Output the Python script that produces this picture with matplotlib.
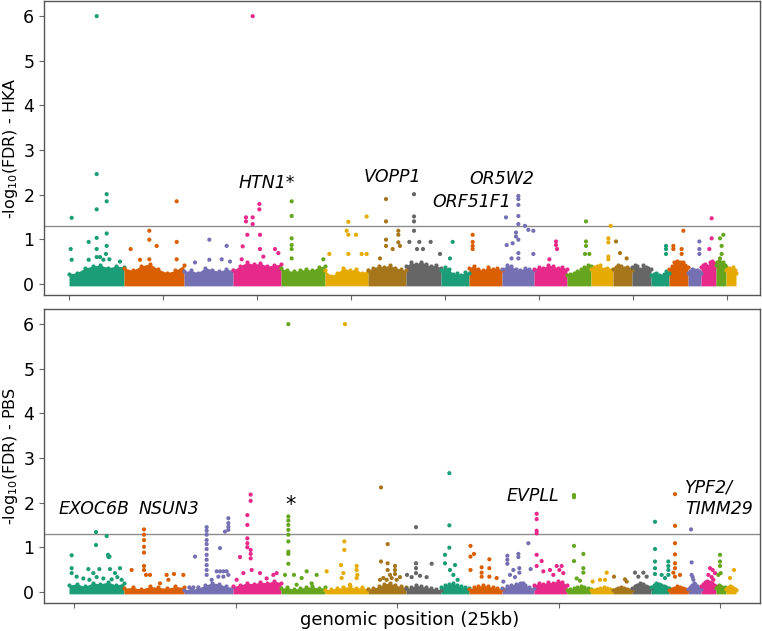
import numpy as np
import matplotlib.pyplot as plt

# chromosome lengths in 25kb bins (read from the block widths)
chrom_len = [11000, 12000, 9800, 9600, 8800, 8600, 7600, 7000, 5600, 6600, 6400,
             6600, 4800, 4400, 3800, 3800, 3600, 3800, 2600, 3000, 2000, 2000]
palette = ['#1b9e77', '#d95f02', '#7570b3', '#e7298a',
           '#66a61e', '#e6ab02', '#a6761d', '#666666']

# upper edge of the dense background cloud, per chromosome
env_hka = [
    [0.22, 0.25, 0.35, 0.40, 0.42, 0.36, 0.40, 0.38],
    [0.36, 0.30, 0.40, 0.45, 0.33, 0.25, 0.30, 0.42],
    [0.28, 0.30, 0.25, 0.36, 0.32, 0.28, 0.33, 0.30],
    [0.30, 0.40, 0.48, 0.44, 0.46, 0.40, 0.42, 0.44],
    [0.35, 0.30, 0.28, 0.30, 0.33, 0.30, 0.38, 0.40],
    [0.30, 0.18, 0.25, 0.36, 0.30, 0.33, 0.25, 0.30],
    [0.30, 0.36, 0.40, 0.38, 0.42, 0.36, 0.33, 0.30],
    [0.40, 0.48, 0.44, 0.50, 0.44, 0.40, 0.42, 0.35],
    [0.30, 0.38, 0.33, 0.22, 0.25, 0.20, 0.26, 0.25],
    [0.36, 0.40, 0.33, 0.30, 0.38, 0.33, 0.36, 0.30],
    [0.33, 0.42, 0.40, 0.33, 0.30, 0.36, 0.33, 0.30],
    [0.33, 0.38, 0.36, 0.42, 0.40, 0.36, 0.38, 0.33],
    [0.20, 0.22, 0.25, 0.28, 0.33, 0.38, 0.42, 0.40],
    [0.33, 0.38, 0.40, 0.42, 0.33, 0.36, 0.30, 0.33],
    [0.33, 0.38, 0.42, 0.40, 0.36, 0.38, 0.33, 0.30],
    [0.38, 0.42, 0.40, 0.33, 0.42, 0.38, 0.36, 0.33],
    [0.20, 0.22, 0.25, 0.20, 0.18, 0.22, 0.28, 0.25],
    [0.33, 0.40, 0.48, 0.52, 0.50, 0.48, 0.42, 0.38],
    [0.25, 0.28, 0.33, 0.30, 0.28, 0.30, 0.28, 0.25],
    [0.38, 0.42, 0.45, 0.40, 0.48, 0.52, 0.46, 0.42],
    [0.42, 0.48, 0.52, 0.50, 0.46, 0.48, 0.42, 0.38],
    [0.30, 0.33, 0.36, 0.30, 0.33, 0.38, 0.30, 0.25],
]
env_pbs = [
    [0.15, 0.18, 0.12, 0.20, 0.18, 0.22, 0.15, 0.20],
    [0.08, 0.10, 0.06, 0.12, 0.10, 0.08, 0.12, 0.10],
    [0.05, 0.06, 0.08, 0.15, 0.20, 0.18, 0.12, 0.10],
    [0.12, 0.15, 0.20, 0.18, 0.22, 0.20, 0.25, 0.20],
    [0.08, 0.10, 0.06, 0.08, 0.10, 0.12, 0.08, 0.10],
    [0.05, 0.06, 0.08, 0.10, 0.12, 0.08, 0.10, 0.06],
    [0.06, 0.08, 0.12, 0.18, 0.20, 0.15, 0.12, 0.10],
    [0.08, 0.10, 0.15, 0.12, 0.10, 0.08, 0.06, 0.05],
    [0.10, 0.15, 0.18, 0.20, 0.15, 0.12, 0.10, 0.08],
    [0.06, 0.10, 0.12, 0.15, 0.12, 0.10, 0.08, 0.06],
    [0.08, 0.12, 0.15, 0.18, 0.20, 0.15, 0.10, 0.08],
    [0.15, 0.20, 0.18, 0.22, 0.20, 0.25, 0.22, 0.15],
    [0.05, 0.06, 0.08, 0.10, 0.12, 0.10, 0.08, 0.06],
    [0.04, 0.05, 0.06, 0.08, 0.10, 0.08, 0.06, 0.05],
    [0.04, 0.06, 0.08, 0.10, 0.08, 0.06, 0.05, 0.04],
    [0.08, 0.12, 0.15, 0.20, 0.18, 0.12, 0.10, 0.08],
    [0.10, 0.15, 0.20, 0.18, 0.15, 0.12, 0.10, 0.08],
    [0.05, 0.06, 0.08, 0.12, 0.10, 0.08, 0.06, 0.05],
    [0.06, 0.10, 0.15, 0.20, 0.18, 0.12, 0.08, 0.06],
    [0.12, 0.18, 0.22, 0.25, 0.22, 0.20, 0.15, 0.12],
    [0.08, 0.10, 0.15, 0.12, 0.10, 0.08, 0.10, 0.06],
    [0.06, 0.08, 0.10, 0.12, 0.10, 0.08, 0.06, 0.05],
]

# windows standing out of the background (position in bins, -log10 FDR)
hka_x = [5533, 5533, 7533, 7533, 5533, 533, 7533, 5533, 3933, 333, 5533, 7533, 7400, 533,
         3933, 5533, 6200, 6870, 8070, 10200,
         16067, 16067, 12333, 17533, 21533, 21533, 16067, 21533, 14200,
         28067, 31533, 25200, 28067, 30533, 32200,
         36733, 38067, 38067, 35400, 35400, 36733, 36733, 35667, 38200, 34733, 38200, 41200,
         41870, 34533, 38870,
         44533, 44533, 44533, 44533, 44533, 44533, 50867,
         55867, 59533, 55533, 55867, 57400, 55867, 58533, 59533, 52067,
         63400, 63400, 65867, 65867, 63400, 63400, 64733, 65867, 66200, 62200,
         69000, 69000, 69000, 69000, 68070, 70070, 72330, 69600, 70800, 74200,
         76733, 76200,
         80733, 80733, 80733, 80733,
         89870, 89870, 89870, 89870, 87400, 89870, 91200, 91870, 92870, 89400, 89400, 87533,
         88730, 89870, 92870, 89870, 89870, 88500,
         97400, 97400, 97600, 96070,
         103400, 103400, 103400, 104070, 103200,
         108330, 107870, 107870, 107870, 107870,
         109400, 110200, 111530,
         119400, 119400, 119400,
         122870, 120870, 120870, 122530, 122530,
         126070, 126070, 126070,
         128530, 128530, 128070,
         130870, 130200, 130530, 130530, 130200]
hka_y = [6.0, 2.46, 2.01, 1.85, 1.67, 1.48, 1.13, 1.03, 0.94, 0.78, 0.78, 0.85, 0.67, 0.54,
         0.54, 0.60, 0.60, 0.54, 0.55, 0.50,
         1.19, 0.99, 0.78, 0.85, 1.85, 0.94, 0.55, 0.55, 0.54,
         0.99, 0.85, 0.48, 0.54, 0.55, 0.50,
         6.0, 1.79, 1.67, 1.49, 1.40, 1.49, 1.34, 1.10, 1.10, 0.84, 0.78, 0.78,
         0.69, 0.55, 0.61,
         1.85, 1.52, 1.02, 0.87, 0.78, 0.57, 0.55,
         1.39, 1.51, 1.19, 1.10, 1.10, 0.67, 0.67, 0.67, 0.67,
         1.90, 1.40, 1.19, 1.10, 0.99, 0.85, 0.78, 0.93, 0.85, 0.57,
         2.01, 1.51, 1.40, 1.19, 0.94, 0.94, 0.94, 0.78, 0.78, 0.67,
         0.94, 0.57,
         1.10, 0.94, 0.85, 0.78,
         1.97, 1.90, 1.77, 1.52, 1.49, 1.34, 1.30, 1.21, 1.19, 1.15, 1.06, 0.87,
         0.91, 0.99, 0.67, 0.69, 0.57, 0.57,
         0.95, 0.87, 0.78, 0.55,
         1.40, 0.95, 0.85, 0.67, 0.67,
         1.30, 1.02, 0.93, 0.61, 0.55,
         0.95, 0.69, 0.57,
         0.85, 0.78, 0.67,
         1.19, 0.85, 0.78, 0.78, 0.67,
         0.95, 0.78, 0.67,
         1.47, 1.02, 0.78,
         1.10, 1.02, 0.85, 0.67, 0.57]

pbs_x = [5400, 7533, 5400, 7800, 8100, 7900, 533, 533, 533, 3870, 6070, 8200, 10200, 9200,
         4870, 1530, 2870, 4070, 5530, 6870, 8530, 9670, 10530,
         15000, 15000, 15000, 15000, 15000, 15000, 15000, 12530, 15400, 16200, 19530, 21000,
         22870, 19870, 18200,
         27530, 27530, 27530, 27530, 27530, 27530, 27530, 27530, 27530, 27530, 27530,
         31870, 31870, 31870, 31870, 31200, 30200, 25200, 29530, 30200, 30870, 31530, 29870,
         30870, 31870, 28530, 24070, 24870, 25870,
         36330, 36330, 35670, 35670, 35670, 35670, 35670, 36330, 36330, 36330, 34200, 34870,
         36530, 38200, 40870, 41530, 39530, 33530,
         43870, 43870, 43870, 43870, 43870, 43870, 43870, 43870, 43870, 43870, 43200, 45000,
         46530, 47530, 49530, 48530, 45530,
         55200, 55070, 55070, 54400, 57530, 57530, 57670, 51530, 54870, 54530, 57530, 56200,
         62400, 63730, 62400, 63730, 65200, 65200, 65200, 63730, 64200, 62200, 62870, 63530,
         64530, 65530, 66200,
         69400, 69400, 69400, 72530, 67600, 68530, 70200, 71530, 69400,
         76070, 76070, 76070, 75200, 77200, 75200, 76200, 76870, 77730,
         80300, 80300, 81000, 80300, 84070, 82530, 82530, 82530, 84070, 84070, 85530,
         87670, 87670, 87670, 89870, 89870, 91870, 88870, 90070, 90070, 92330, 88200, 89200,
         86870, 90870,
         93530, 93530, 93530, 93530, 93530, 94530, 93530, 97530, 98530, 98070, 94870, 96200,
         96870, 98870,
         101000, 101000, 101000, 102870, 101000, 102870, 102870, 101530, 102200,
         107530, 106200, 107200, 104730,
         109000, 111200, 111530,
         113200, 114870, 113870, 115530,
         117200, 117200, 117200, 117200, 117200, 119870, 119870, 119870, 119870, 118530, 119200,
         121200, 121200, 121200, 121200, 121200, 121200, 120870, 121200, 122200,
         124400, 124530, 124530, 124730, 124870,
         128200, 128730, 127870, 129200, 128530, 128870,
         130200, 130200, 130200, 129870, 130330,
         133000, 132200]
pbs_y = [1.34, 1.25, 1.05, 0.83, 0.79, 0.78, 0.82, 0.53, 0.42, 0.51, 0.51, 0.51, 0.53, 0.42,
         0.42, 0.34, 0.30, 0.27, 0.33, 0.30, 0.28, 0.33, 0.27,
         1.40, 1.28, 1.16, 1.01, 0.88, 0.58, 0.49, 0.49, 0.38, 0.38, 0.38, 0.40,
         0.38, 0.27, 0.19,
         1.45, 1.37, 1.28, 1.16, 1.07, 0.96, 0.83, 0.72, 0.60, 0.49, 0.38,
         1.65, 1.54, 1.46, 1.39, 1.35, 0.98, 0.79, 0.46, 0.46, 0.46, 0.46, 0.34,
         0.34, 0.38, 0.27, 0.10, 0.10, 0.10,
         2.18, 2.04, 1.72, 1.50, 1.20, 1.09, 1.00, 0.94, 0.85, 0.75, 0.78, 0.42,
         0.49, 0.42, 0.38, 0.42, 0.30, 0.27,
         6.0, 1.69, 1.60, 1.50, 1.39, 1.28, 1.13, 0.90, 0.85, 0.63, 0.38, 0.38,
         0.31, 0.46, 0.38, 0.19, 0.16,
         6.0, 1.13, 0.94, 0.60, 0.58, 0.49, 0.38, 0.46, 0.42, 0.31, 0.31, 0.16,
         2.34, 1.07, 0.68, 0.64, 0.58, 0.49, 0.40, 0.49, 0.38, 0.27, 0.31, 0.27,
         0.31, 0.27, 0.33,
         1.45, 0.64, 0.53, 0.63, 0.38, 0.33, 0.36, 0.33, 0.42,
         2.66, 1.49, 0.99, 0.83, 0.60, 0.64, 0.49, 0.38, 0.27,
         1.03, 0.79, 0.85, 0.49, 0.73, 0.55, 0.43, 0.34, 0.53, 0.34, 0.31,
         0.81, 0.72, 0.63, 0.85, 0.78, 1.09, 0.49, 0.53, 0.43, 0.51, 0.38, 0.33,
         0.23, 0.19,
         1.75, 1.63, 1.37, 1.31, 0.83, 0.69, 0.58, 0.58, 0.58, 0.49, 0.46, 0.49,
         0.38, 0.42,
         2.17, 2.12, 1.03, 0.85, 0.69, 0.53, 0.43, 0.30, 0.25,
         0.43, 0.27, 0.27, 0.23,
         0.34, 0.28, 0.23,
         0.43, 0.43, 0.34, 0.34,
         1.57, 0.96, 0.68, 0.53, 0.40, 0.68, 0.58, 0.49, 0.38, 0.38, 0.31,
         2.19, 1.48, 1.09, 0.84, 0.64, 0.53, 0.43, 0.34, 0.38,
         1.40, 0.66, 0.38, 0.33, 0.27,
         0.53, 0.49, 0.38, 0.42, 0.33, 0.27,
         0.83, 0.68, 0.58, 0.38, 0.42,
         0.49, 0.31]

hka_genes = ['HTN1*', 'VOPP1', 'OR5W2', 'ORF51F1']
hka_gene_x = [39600, 64600, 86600, 80600]
hka_gene_y = [2.25, 2.40, 2.35, 1.84]
pbs_genes = ['EXOC6B', 'NSUN3', 'EVPLL']
pbs_gene_x = [5000, 20000, 92800]
pbs_gene_y = [1.85, 1.85, 2.15]

threshold = -np.log10(0.05)

starts = np.concatenate([[0], np.cumsum(chrom_len)])
chrom_colors = [palette[i % len(palette)] for i in range(len(chrom_len))]


def draw_panel(ax, env, xs, ys):
    for i, e in enumerate(env):
        pos = np.linspace(starts[i], starts[i + 1], len(e))
        ax.fill_between(pos, -0.045, e, color=chrom_colors[i], lw=0, zorder=2)
        ax.scatter(pos, e, s=9, color=chrom_colors[i], lw=0, zorder=3)
    idx = np.searchsorted(starts, xs, side='right') - 1
    ax.scatter(xs, ys, s=9, c=[chrom_colors[k] for k in idx], lw=0, zorder=3)
    ax.axhline(threshold, color='#8c8c8c', lw=1, zorder=1)
    ax.set_xlim(-5000, 138200)
    ax.set_ylim(-0.25, 6.34)
    ax.set_yticks(range(7))
    ax.tick_params(axis='both', labelsize=12.5, color='#666666')
    ax.tick_params(axis='x', labelbottom=False)
    for s in ax.spines.values():
        s.set_color('#555555')
        s.set_linewidth(1)


fig = plt.figure(figsize=(7.62, 6.31), dpi=100)
ax1 = fig.add_axes([44 / 762, 1 - 295 / 631, 716 / 762, 294 / 631])
ax2 = fig.add_axes([44 / 762, 1 - 603 / 631, 716 / 762, 294 / 631])

draw_panel(ax1, env_hka, hka_x, hka_y)
draw_panel(ax2, env_pbs, pbs_x, pbs_y)
ax1.set_xticks(np.arange(0, 135000, 18800))
ax2.set_xticks(np.arange(1000, 135000, 32300))

ax1.set_ylabel(r'-log$_{10}$(FDR) - HKA', fontsize=11.5, va='center')
ax2.set_ylabel(r'-log$_{10}$(FDR) - PBS', fontsize=11.5, va='center')
ax1.yaxis.set_label_coords(-0.047, 0.5)
ax2.yaxis.set_label_coords(-0.047, 0.5)
ax2.set_xlabel('genomic position (25kb)', fontsize=13, va='center')
ax2.xaxis.set_label_coords(0.51, -0.058)

for g, x, y in zip(hka_genes, hka_gene_x, hka_gene_y):
    ax1.text(x, y, g, style='italic', fontsize=12.5, ha='center', va='center')
for g, x, y in zip(pbs_genes, pbs_gene_x, pbs_gene_y):
    ax2.text(x, y, g, style='italic', fontsize=12.5, ha='center', va='center')
ax2.text(44340, 1.95, '*', fontsize=15, ha='center', va='center')
ax2.text(123200, 2.1, 'YPF2/\nTIMM29', style='italic', fontsize=12.5,
         ha='left', va='center')

fig.savefig('out.png', dpi=100)
